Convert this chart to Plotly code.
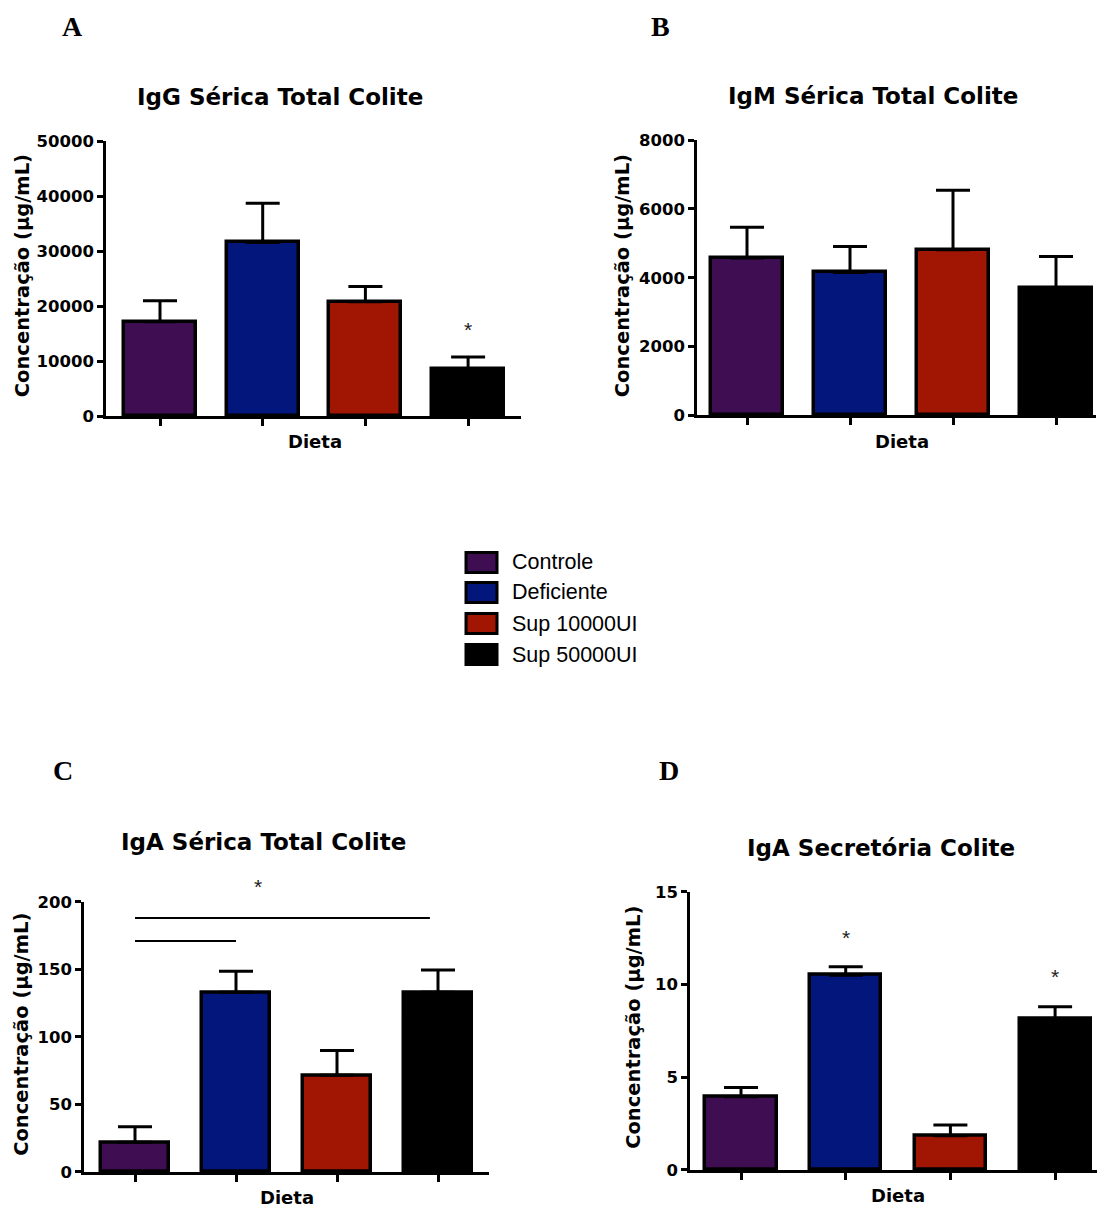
import plotly.graph_objects as go

# ---- data -------------------------------------------------------------
groups = ["Controle", "Deficiente", "Sup 10000UI", "Sup 50000UI"]
group_colors = ["#3e0d52", "#02167c", "#a01602", "#000000"]

igg_mean = [17200, 31600, 20800, 8500]
igg_sem = [3800, 7100, 2800, 2300]

igm_mean = [4570, 4150, 4810, 3700]
igm_sem = [900, 760, 1730, 920]

iga_mean = [22, 133, 71.5, 133]
iga_sem = [11.5, 15.5, 18.5, 16.5]

igas_mean = [3.95, 10.5, 1.85, 8.15]
igas_sem = [0.5, 0.45, 0.58, 0.65]

titles = ["IgG Sérica Total Colite", "IgM Sérica Total Colite",
          "IgA Sérica Total Colite", "IgA Secretória Colite"]
panel_letters = ["A", "B", "C", "D"]
y_title = "Concentração (µg/mL)"
x_title = "Dieta"

# significance marks: (panel index, x position, y value)
stars = [(0, 3, 15800), (2, 1.22, 211), (3, 1, 12.55), (3, 3, 10.45)]
# comparison lines on panel C: (x start, x end, y value)
sig_lines = [(0, 2.92, 188), (0, 1, 171)]

# ---- layout geometry (pixels) ----------------------------------------
W, H = 1098, 1207
PLOT_H, TOP_PAD = 1187, 10


def fx(p):
    return p / W


def fy(p):
    return 1 - (p - TOP_PAD) / PLOT_H


panels = [
    dict(mean=igg_mean, sem=igg_sem, ymax=50000, dtick=10000,
         left=106, right=521, zero=417, top=142, tick0=160, step=102.7,
         bw=0.70, title=(280, 98), letter=(72, 27), ytl=(22, 277), xtl=(315, 442)),
    dict(mean=igm_mean, sem=igm_sem, ymax=8000, dtick=2000,
         left=697, right=1096, zero=416, top=141, tick0=747, step=103,
         bw=0.69, title=(873, 97), letter=(660, 27), ytl=(622, 277), xtl=(902, 442)),
    dict(mean=iga_mean, sem=iga_sem, ymax=200, dtick=50,
         left=84, right=489, zero=1172, top=902, tick0=135, step=101,
         bw=0.67, title=(263, 842), letter=(63, 771), ytl=(22, 1035), xtl=(287, 1197)),
    dict(mean=igas_mean, sem=igas_sem, ymax=15, dtick=5,
         left=690, right=1097, zero=1170, top=892, tick0=741, step=104.7,
         bw=0.68, title=(881, 848), letter=(669, 771), ytl=(634, 1028), xtl=(898, 1196)),
]

bold_font = dict(family="DejaVu Sans", color="black", weight="bold")

fig = go.Figure()
annotations = []
shapes = []
xs = list(range(len(groups)))

for i, p in enumerate(panels):
    n = "" if i == 0 else str(i + 1)
    fig.add_trace(go.Bar(
        x=xs, y=p["mean"], width=p["bw"],
        marker=dict(color=group_colors, line=dict(color="black", width=3.5)),
        error_y=dict(type="data", symmetric=False, array=p["sem"],
                     arrayminus=[0] * len(groups), color="black",
                     thickness=3, width=17),
        xaxis="x" + n, yaxis="y" + n, showlegend=False, hoverinfo="skip",
    ))
    xlo = -(p["tick0"] - p["left"]) / p["step"]
    xhi = (p["right"] - p["tick0"]) / p["step"]
    fig.layout["xaxis" + n] = dict(
        domain=[fx(p["left"]), min(1, fx(p["right"]))], range=[xlo, xhi],
        anchor="y" + n, showline=True, linecolor="black", linewidth=2.5,
        ticks="outside", ticklen=7, tickwidth=2.5, tickcolor="black",
        tickvals=xs, showticklabels=False, showgrid=False, zeroline=False,
        fixedrange=True,
    )
    fig.layout["yaxis" + n] = dict(
        domain=[fy(p["zero"]), fy(p["top"])], range=[0, p["ymax"]],
        anchor="x" + n, showline=True, linecolor="black", linewidth=2.5,
        ticks="outside", ticklen=6, tickwidth=2.5, tickcolor="black",
        dtick=p["dtick"], tick0=0, tickformat="d",
        tickfont=dict(size=16.5, **bold_font),
        showgrid=False, zeroline=False, fixedrange=True,
    )
    annotations.append(dict(
        text=titles[i], x=fx(p["title"][0]), y=fy(p["title"][1]),
        xref="paper", yref="paper", showarrow=False,
        xanchor="center", yanchor="middle", font=dict(size=23, **bold_font)))
    annotations.append(dict(
        text=panel_letters[i], x=fx(p["letter"][0]), y=fy(p["letter"][1]),
        xref="paper", yref="paper", showarrow=False,
        xanchor="center", yanchor="middle",
        font=dict(family="Liberation Serif", size=28, color="black", weight="bold")))
    annotations.append(dict(
        text=y_title, x=fx(p["ytl"][0]), y=fy(p["ytl"][1]),
        xref="paper", yref="paper", showarrow=False, textangle=-90,
        xanchor="center", yanchor="middle", font=dict(size=19.5, **bold_font)))
    annotations.append(dict(
        text=x_title, x=fx(p["xtl"][0]), y=fy(p["xtl"][1]),
        xref="paper", yref="paper", showarrow=False,
        xanchor="center", yanchor="middle", font=dict(size=18, **bold_font)))

for pi, sx, sy in stars:
    n = "" if pi == 0 else str(pi + 1)
    annotations.append(dict(
        text="*", x=sx, y=sy / panels[pi]["ymax"],
        xref="x" + n, yref="y" + n + " domain", showarrow=False,
        xanchor="center", yanchor="middle",
        font=dict(family="Liberation Sans", size=21, color="#222222")))

for x0, x1, yv in sig_lines:
    shapes.append(dict(type="line", xref="x3", yref="y3", x0=x0, x1=x1,
                       y0=yv, y1=yv, line=dict(color="black", width=2)))

# legend drawn as boxes with labels
legend_rows = [563, 593, 624, 655]
for g, c, yc in zip(groups, group_colors, legend_rows):
    shapes.append(dict(type="rect", xref="paper", yref="paper",
                       x0=fx(466), x1=fx(497), y0=fy(yc + 10), y1=fy(yc - 10),
                       fillcolor=c, line=dict(color="black", width=3)))
    annotations.append(dict(
        text=g, x=fx(510), y=fy(yc), xref="paper", yref="paper",
        showarrow=False, xanchor="left", yanchor="middle",
        font=dict(family="Liberation Sans", size=21.5, color="black")))

fig.update_layout(
    width=W, height=H, margin=dict(l=0, r=0, t=0, b=0),
    paper_bgcolor="white", plot_bgcolor="white",
    annotations=annotations, shapes=shapes, showlegend=False,
    bargap=0,
)

fig.write_html("out.html")
